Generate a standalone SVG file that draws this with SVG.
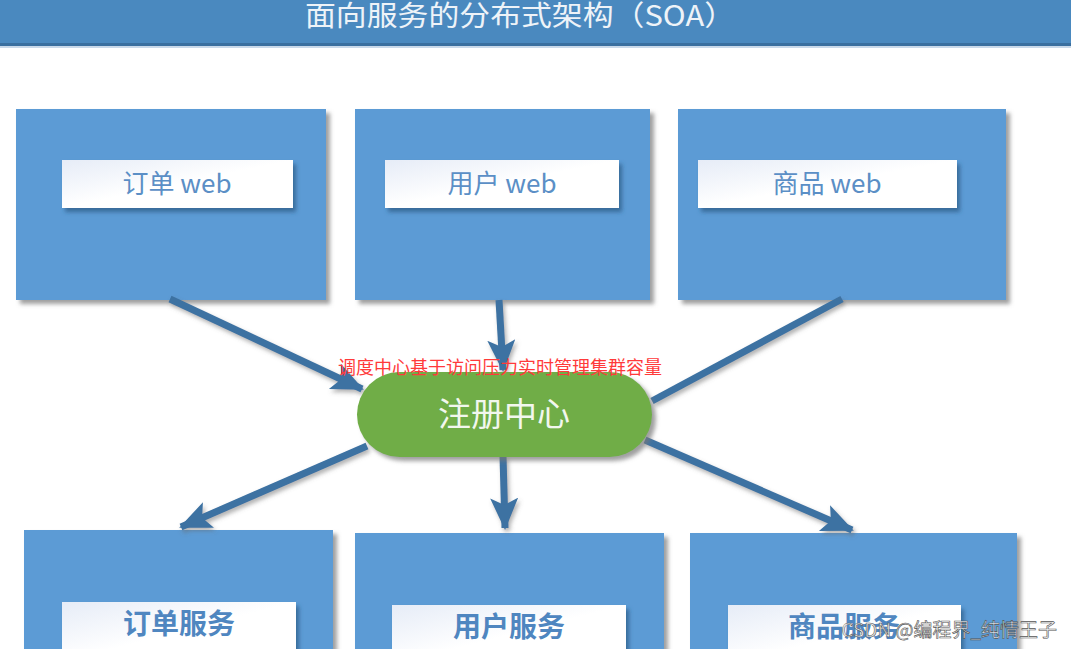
<svg xmlns="http://www.w3.org/2000/svg" width="1071" height="649" viewBox="0 0 1071 649">
<defs>
<style>
.box{fill:#5b9bd5;filter:url(#sh)}
.lbl{fill:url(#lg);filter:url(#lsh)}
.t1{font-family:"Noto Sans CJK SC","Liberation Sans",sans-serif;font-size:26px;fill:#5b8fc6;text-anchor:middle}
.t2{font-family:"Noto Sans CJK SC","Liberation Sans",sans-serif;font-size:28px;font-weight:bold;fill:#4f86c0;text-anchor:middle}
.con{stroke:#3d72a2;stroke-width:7;fill:none;filter:url(#csh)}
</style>
<linearGradient id="lg" x1="0" y1="0" x2="1" y2="1">
<stop offset="0" stop-color="#e6ecf7"/>
<stop offset="0.5" stop-color="#ffffff"/>
<stop offset="1" stop-color="#ffffff"/>
</linearGradient>
<filter id="sh" x="-5%" y="-5%" width="115%" height="115%">
<feDropShadow dx="4" dy="4" stdDeviation="2" flood-color="#777" flood-opacity="0.7"/>
</filter>
<filter id="lsh" x="-5%" y="-10%" width="115%" height="130%">
<feDropShadow dx="3" dy="4" stdDeviation="2" flood-color="#2a5680" flood-opacity="0.7"/>
</filter>
<filter id="csh" filterUnits="userSpaceOnUse" x="0" y="0" width="1071" height="649">
<feDropShadow dx="2" dy="3" stdDeviation="2" flood-color="#666" flood-opacity="0.5"/>
</filter>
<marker id="ah" markerUnits="userSpaceOnUse" markerWidth="34" markerHeight="30" refX="30" refY="14" orient="auto">
<path d="M0,0 L32,14 L0,28 L7,14 Z" fill="#3d72a2"/>
</marker>
</defs>
<rect x="0" y="0" width="1071" height="649" fill="#ffffff"/>
<g id="header">
<rect x="0" y="0" width="1071" height="45" fill="#4a89bf"/>
<rect x="0" y="43" width="1071" height="3" fill="#3a6f9f"/>
<rect x="0" y="46" width="1071" height="2" fill="#c9d9ea"/>
<text x="305" y="26" font-family="Noto Sans CJK SC,Liberation Sans,sans-serif" font-size="28" fill="#eef3f8" textLength="430" lengthAdjust="spacingAndGlyphs">面向服务的分布式架构（SOA）</text>
</g>
<g id="order-web">
<rect class="box" x="16" y="109" width="310" height="191"/>
<rect class="lbl" x="62" y="160" width="231" height="48"/>
<text class="t1" x="177" y="193">订单 web</text>
</g>
<g id="user-web">
<rect class="box" x="355" y="109" width="295" height="191"/>
<rect class="lbl" x="385" y="160" width="234" height="48"/>
<text class="t1" x="502" y="193">用户 web</text>
</g>
<g id="product-web">
<rect class="box" x="678" y="109" width="328" height="191"/>
<rect class="lbl" x="698" y="160" width="259" height="48"/>
<text class="t1" x="827" y="193">商品 web</text>
</g>
<g id="order-service">
<rect class="box" x="24" y="530" width="309" height="125"/>
<rect class="lbl" x="62" y="602" width="234" height="60"/>
<text class="t2" x="179" y="634">订单服务</text>
</g>
<g id="user-service">
<rect class="box" x="355" y="533" width="309" height="122"/>
<rect class="lbl" x="392" y="605" width="234" height="60"/>
<text class="t2" x="509" y="637">用户服务</text>
</g>
<g id="product-service">
<rect class="box" x="690" y="533" width="327" height="122"/>
<rect class="lbl" x="728" y="605" width="233" height="60"/>
<text class="t2" x="844" y="637">商品服务</text>
</g>
<g id="connectors">
<line class="con" x1="170" y1="299" x2="362" y2="389" marker-end="url(#ah)"/>
<line class="con" x1="499" y1="300" x2="503" y2="370" marker-end="url(#ah)"/>
<line class="con" x1="842" y1="299" x2="652" y2="401"/>
<line class="con" x1="367" y1="446" x2="181" y2="527" marker-end="url(#ah)"/>
<line class="con" x1="503" y1="456" x2="505" y2="528" marker-end="url(#ah)"/>
<line class="con" x1="645" y1="440" x2="852" y2="530" marker-end="url(#ah)"/>
</g>
<g id="registry">
<rect x="357" y="372" width="295" height="85" rx="42.5" fill="#70ad47" filter="url(#sh)"/>
<text x="504" y="426" font-family="Noto Sans CJK SC,Liberation Sans,sans-serif" font-size="33" fill="#f2f7ee" text-anchor="middle">注册中心</text>
</g>
<text x="500" y="374" font-family="Noto Sans CJK SC,Liberation Sans,sans-serif" font-size="18" fill="#ff3a3a" text-anchor="middle">调度中心基于访问压力实时管理集群容量</text>
<text x="1057" y="637" font-family="Noto Sans CJK SC,Liberation Sans,sans-serif" font-size="19" fill="#f4f4f4" fill-opacity="0.85" stroke="#555" stroke-width="0.6" text-anchor="end">CSDN @编程界_纯情王子</text>
</svg>
